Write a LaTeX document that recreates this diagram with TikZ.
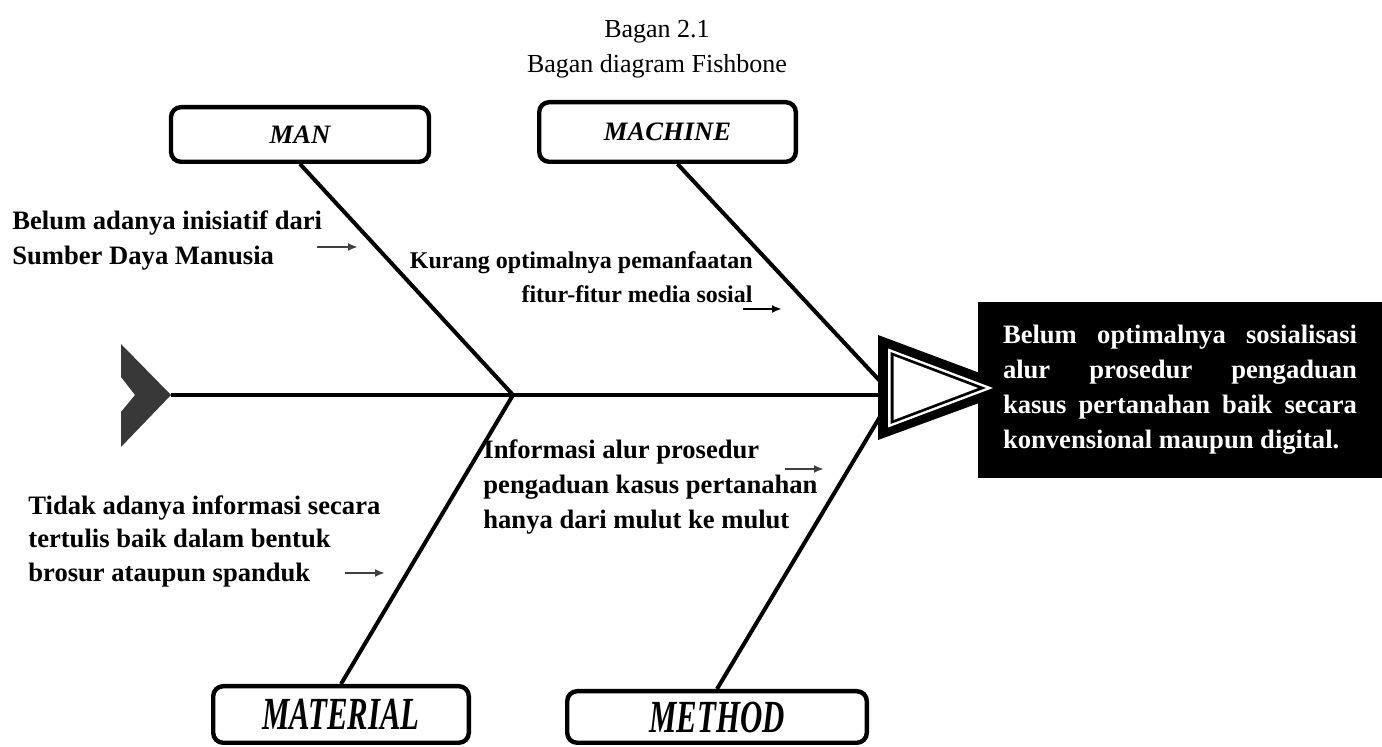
\documentclass[tikz,border=0pt]{standalone}
\usepackage{fontspec}
\setmainfont{Liberation Serif}
\usetikzlibrary{arrows.meta, positioning}

\begin{document}
\begin{tikzpicture}[x=0.5pt, y=-0.5pt,
    cat/.style={rectangle, draw, line width=2.2pt, rounded corners=5pt, fill=white, font=\fontsize{13.3}{16}\selectfont\bfseries\itshape},
    big/.style={font=\fontsize{23}{26}\selectfont\bfseries\itshape},
    bone/.style={line width=2pt},
    cause/.style={inner sep=0pt, align=left, font=\fontsize{13.3}{17.5}\selectfont\bfseries},
    ptr/.style={draw=black!75, line width=1.1pt, -{Latex[length=5pt,width=4pt]}}]
    \useasboundingbox (0,0) rectangle (1382,747);

    % title
    \node[anchor=base, font=\fontsize{13}{16}\selectfont] (ttl) at (657,38) {Bagan 2.1};
    \node[anchor=base, font=\fontsize{13}{16}\selectfont] (sub) at (657,73) {Bagan diagram Fishbone};

    % categories
    \node[cat, minimum width=129pt, minimum height=27.3pt] (man) at (300,134.5) {MAN};
    \node[cat, minimum width=128.3pt, minimum height=29.8pt] (mach) at (667.5,132) {MACHINE};
    \node[cat, big, minimum width=127.8pt, minimum height=28.3pt] (mat) at (341,714.5) {\scalebox{0.67}[1]{MATERIAL}};
    \node[cat, big, minimum width=149.8pt, minimum height=25.8pt] (meth) at (717,717) {\scalebox{0.67}[1]{METHOD}};

    % spine and bones
    \coordinate (tail) at (171,395);
    \coordinate (j1) at (513,395);
    \coordinate (j2) at (893,395);
    \fill[black!78] (121,344) -- (tail) -- (121,447) -- (121,412) -- (135,395) -- (121,377) -- cycle;
    \draw[bone] (tail) -- (j2);
    \draw[bone] (man.south) -- (j1);
    \draw[bone] (j1) -- (mat.north);
    \draw[bone] ([xshift=5pt]mach.south) -- (j2);
    \draw[bone] (j2) -- (meth.north);

    % effect
    \node[fill=black, text=white, text width=177pt, inner xsep=12.5pt, minimum height=88pt, align=justify,
          font=\fontsize{13.3}{17.5}\selectfont\bfseries] (eff) at (1180,390)
        {Belum optimalnya sosialisasi\linebreak alur prosedur pengaduan\linebreak kasus pertanahan baik secara\linebreak konvensional maupun digital.};
    \fill (878,335) -- (878,440) -- (1020,388) -- cycle;
    \fill[white] (888,348.5) -- (888,427.5) -- (993,388) -- cycle;
    \fill (890.5,352) -- (890.5,424) -- (986,388) -- cycle;
    \fill[white] (893.5,356) -- (893.5,420) -- (978,388) -- cycle;

    % causes
    \node[cause, anchor=north west] (c1) at (12,210) {Belum adanya inisiatif dari\\Sumber Daya Manusia};
    \node[cause, anchor=north east, align=right, font=\fontsize{12}{17}\selectfont\bfseries] (c2) at (753,251) {Kurang optimalnya pemanfaatan\\fitur-fitur media sosial};
    \node[cause, anchor=north west] (c3) at (483,439) {Informasi alur prosedur\\pengaduan kasus pertanahan\\hanya dari mulut ke mulut};
    \node[cause, anchor=north west, font=\fontsize{13.3}{16.8}\selectfont\bfseries] (c4) at (28,495) {Tidak adanya informasi secara\\tertulis baik dalam bentuk\\brosur ataupun spanduk};

    % small arrows
    \coordinate (p1) at (317,247); \coordinate (q1) at (358,247);
    \coordinate (p2) at (743,309); \coordinate (q2) at (782,309);
    \coordinate (p3) at (785,469); \coordinate (q3) at (824,469);
    \coordinate (p4) at (345,573); \coordinate (q4) at (385,573);
    \draw[ptr] (p1) -- (q1);
    \draw[ptr, draw=black] (p2) -- (q2);
    \draw[ptr] (p3) -- (q3);
    \draw[ptr] (p4) -- (q4);
\end{tikzpicture}
\end{document}
